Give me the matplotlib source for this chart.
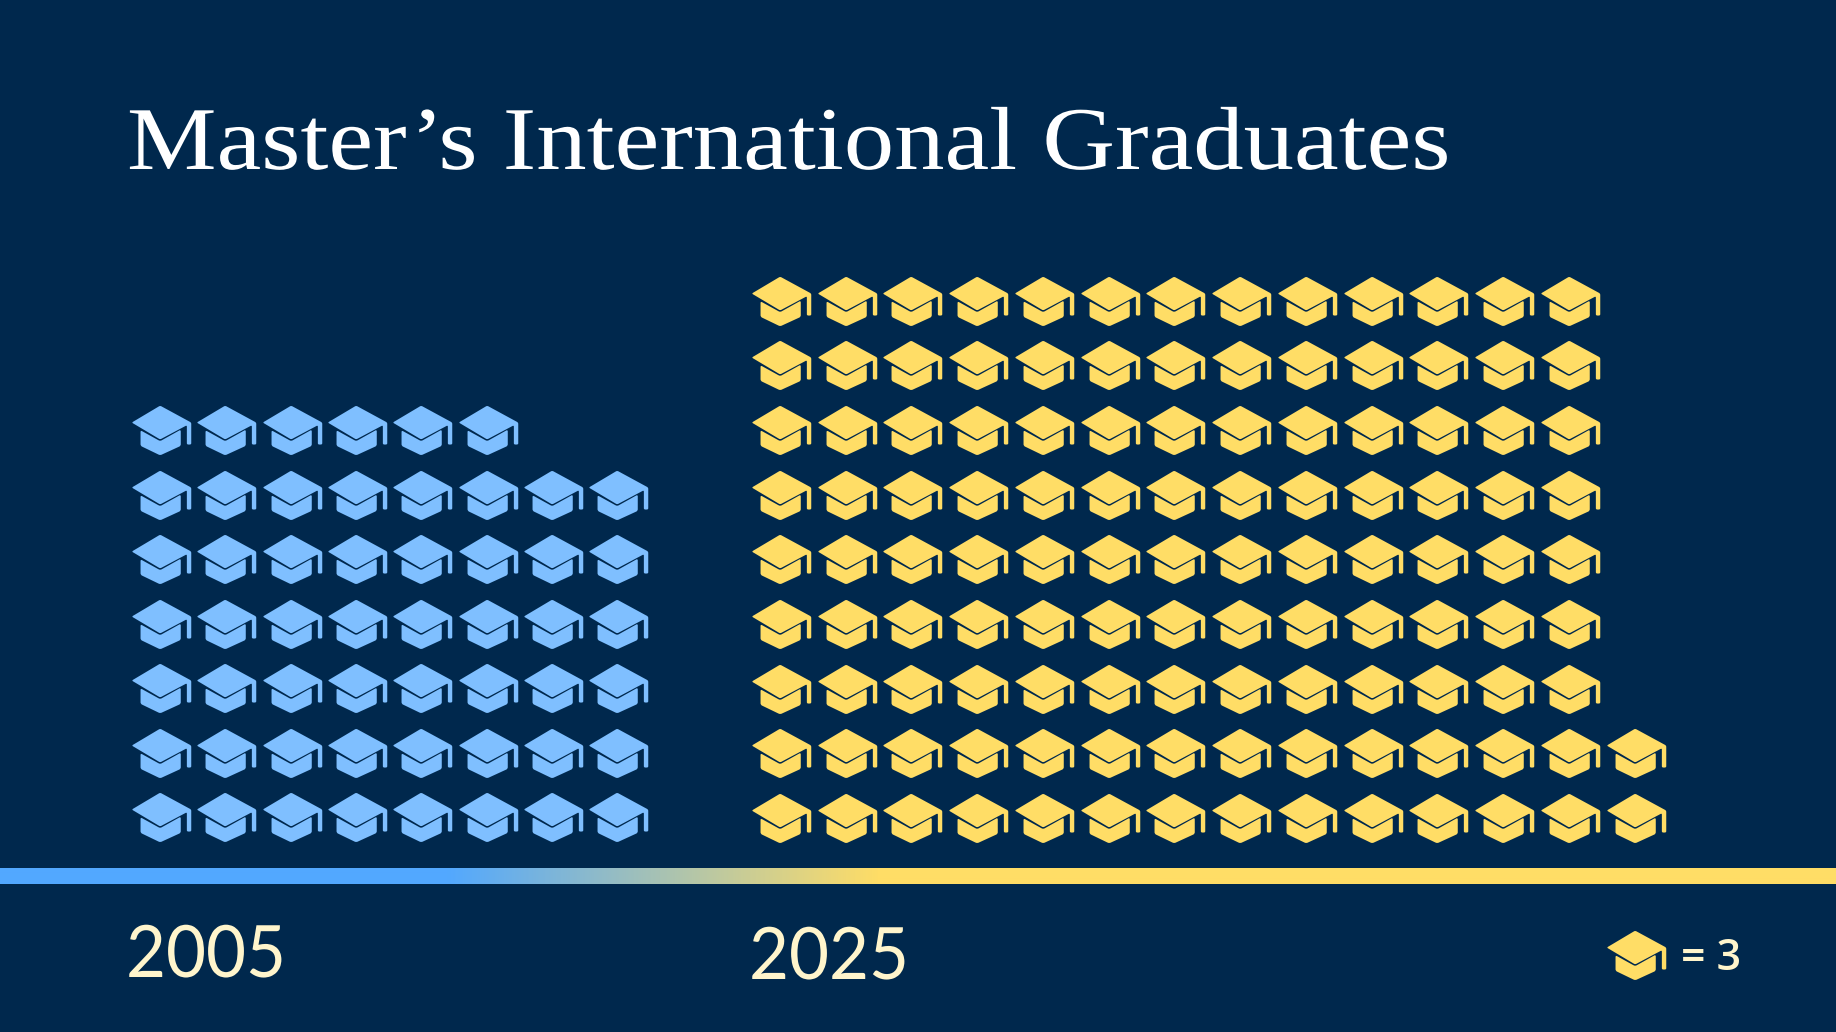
import numpy as np
import matplotlib
matplotlib.use('Agg')
import matplotlib.pyplot as plt
from matplotlib.path import Path
from matplotlib.colors import LinearSegmentedColormap
from matplotlib.patheffects import AbstractPathEffect
from matplotlib.transforms import Affine2D

# icons per row, bottom row first (one icon = 3 graduates)
years = ['2005', '2025']
rows_2005 = [8, 8, 8, 8, 8, 8, 6]
rows_2025 = [14, 14, 13, 13, 13, 13, 13, 13, 13]
legend_value = 3
title = 'Master\u2019s International Graduates'

BG = '#00284D'
BLUE = '#7FBFFF'
YELLOW = '#FFDD66'
CREAM = '#FFF5CC'
BAR_BLUE = '#52A8FF'


# widen or narrow a text around its left edge, the installed fonts run a bit off
class StretchX(AbstractPathEffect):
    def __init__(self, x0, k):
        super().__init__()
        self.x0 = x0
        self.k = k

    def draw_path(self, renderer, gc, tpath, affine, rgbFace=None):
        stretch = Affine2D().translate(-self.x0, 0).scale(self.k, 1).translate(self.x0, 0)
        renderer.draw_path(gc, tpath, affine + stretch, rgbFace)


# polygon with the corners rounded off
def rounded(points, r):
    verts, codes = [], []
    n = len(points)
    for i in range(n):
        p = np.array(points[i], float)
        a = np.array(points[i - 1], float)
        b = np.array(points[(i + 1) % n], float)
        ra = min(r, np.linalg.norm(a - p) / 2)
        rb = min(r, np.linalg.norm(b - p) / 2)
        start = p + (a - p) / np.linalg.norm(a - p) * ra
        end = p + (b - p) / np.linalg.norm(b - p) * rb
        verts += [start, p, end]
        codes += [Path.LINETO, Path.CURVE3, Path.CURVE3]
    codes[0] = Path.MOVETO
    verts.append(verts[0])
    codes.append(Path.CLOSEPOLY)
    return verts, codes


# cap shape
cap = [(36, 97), (120, 47), (212, 97), (212, 162), (199, 162), (199, 105), (120, 147)]
body = [(62, 120), (120, 152), (181, 118), (181, 166), (120, 194), (62, 166)]
v1, c1 = rounded(cap, 4)
v2, c2 = rounded(body, 5)
verts = np.array(v1 + v2, float)
verts[:, 0] = (verts[:, 0] - 124) / 88
verts[:, 1] = -(verts[:, 1] - 120.5) / 88
grad_cap = Path(verts, c1 + c2)

ICON_S = (59.5 * 72 / 100) ** 2  # px wide

fig = plt.figure(figsize=(18.36, 10.32), dpi=100, facecolor=BG)
ax = fig.add_axes([0, 0, 1, 1])
ax.set_facecolor(BG)
ax.axis('off')


def draw_rows(rows, x0, y0, dx, dy, color):
    xs, ys = [], []
    for r, count in enumerate(rows):
        for c in range(count):
            xs.append(x0 + c * dx)
            ys.append(y0 - r * dy)
    ax.scatter(xs, ys, s=ICON_S, marker=grad_cap, color=color, linewidths=0)


draw_rows(rows_2005, 161, 817.3, 65.33, 64.55, BLUE)
draw_rows(rows_2025, 781, 818, 65.74, 64.65, YELLOW)

# baseline with gradient
cmap = LinearSegmentedColormap.from_list('bar', [BAR_BLUE, YELLOW])
grad = np.clip((np.linspace(0, 1836, 1836) - 446) / (880 - 446), 0, 1).reshape(1, -1)
ax.imshow(grad, cmap=cmap, extent=(0, 1836, 884, 868), aspect='auto', interpolation='bilinear')

t = ax.text(127, 169, title, family='Liberation Serif', fontsize=64.5, color='white', va='baseline', ha='left')
t.set_path_effects([StretchX(127, 1.124)])
t = ax.text(126, 977, years[0], family='Lato', fontsize=52, color=CREAM, va='baseline', ha='left')
t.set_path_effects([StretchX(126, 0.955)])
t = ax.text(749, 979, years[1], family='Lato', fontsize=52, color=CREAM, va='baseline', ha='left')
t.set_path_effects([StretchX(749, 0.955)])

ax.scatter([1635.6], [955], s=ICON_S, marker=grad_cap, color=YELLOW, linewidths=0)
ax.text(1681, 970, '= %d' % legend_value, family='Open Sans', fontweight='semibold', fontsize=31,
        color=CREAM, va='baseline', ha='left')

ax.set_xlim(0, 1836)
ax.set_ylim(1032, 0)
fig.savefig('out.png', dpi=100, facecolor=BG)
